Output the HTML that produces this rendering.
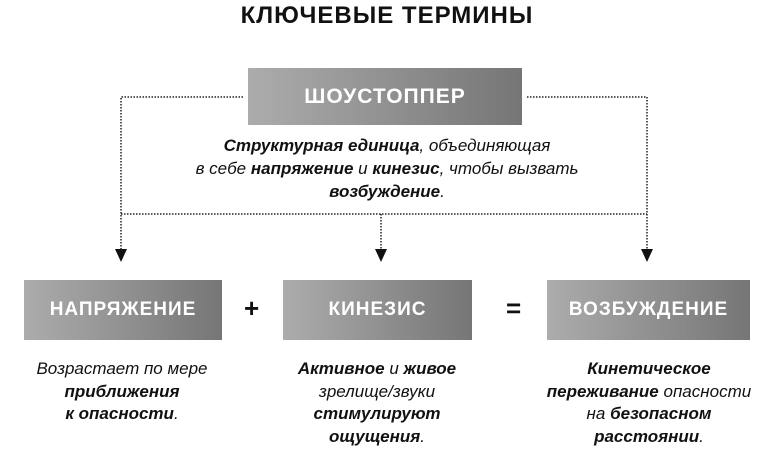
<!DOCTYPE html>
<html><head><meta charset="utf-8"><style>
body{margin:0;width:774px;height:450px;background:#fff;position:relative;overflow:hidden;font-family:"Liberation Sans",sans-serif;color:#111}
.box{position:absolute;background:linear-gradient(90deg,#acacac,#767676);color:#fff;font-weight:bold;display:flex;align-items:center;justify-content:center;letter-spacing:1px}
.t{position:absolute;text-align:center;font-style:italic;font-size:17px;line-height:22.5px}
b{font-weight:bold}
</style></head><body>
<div style="position:absolute;left:0;width:774px;top:2px;text-align:center;font-weight:bold;font-size:24px;letter-spacing:1px">КЛЮЧЕВЫЕ ТЕРМИНЫ</div>
<svg width="774" height="450" style="position:absolute;left:0;top:0">
<g stroke="#222" stroke-width="1.5" stroke-dasharray="1.5,1.5" fill="none">
<path d="M243 97H121V250M527 97H647V250M121 214H647M381 214V250"/>
</g>
<g fill="#111"><path d="M115 249h12l-6 13z"/><path d="M375 249h12l-6 13z"/><path d="M641 249h12l-6 13z"/></g>
</svg>
<div class="box" style="left:248px;top:68px;width:274px;height:57px;font-size:21px">ШОУСТОППЕР</div>
<div class="t" style="left:150px;width:474px;top:134px;font-size:17px;line-height:23px"><b>Структурная единица</b>, объединяющая<br>в себе <b>напряжение</b> и <b>кинезис</b>, чтобы вызвать<br><b>возбуждение</b>.</div>
<div class="box" style="left:24px;top:280px;width:198px;height:60px;font-size:19px">НАПРЯЖЕНИЕ</div>
<div class="box" style="left:283px;top:280px;width:189px;height:60px;font-size:19px">КИНЕЗИС</div>
<div class="box" style="left:547px;top:280px;width:203px;height:60px;font-size:19px">ВОЗБУЖДЕНИЕ</div>
<div style="position:absolute;left:244px;top:293px;font-size:26px;font-weight:bold">+</div>
<div style="position:absolute;left:506px;top:293px;font-size:26px;font-weight:bold">=</div>
<div class="t" style="left:0;width:244px;top:358px">Возрастает по мере<br><b>приближения</b><br><b>к опасности</b>.</div>
<div class="t" style="left:262px;width:230px;top:358px"><b>Активное</b> и <b>живое</b><br>зрелище/звуки<br><b>стимулируют</b><br><b>ощущения</b>.</div>
<div class="t" style="left:520px;width:258px;top:358px"><b>Кинетическое</b><br><b>переживание</b> опасности<br>на <b>безопасном</b><br><b>расстоянии</b>.</div>
</body></html>
